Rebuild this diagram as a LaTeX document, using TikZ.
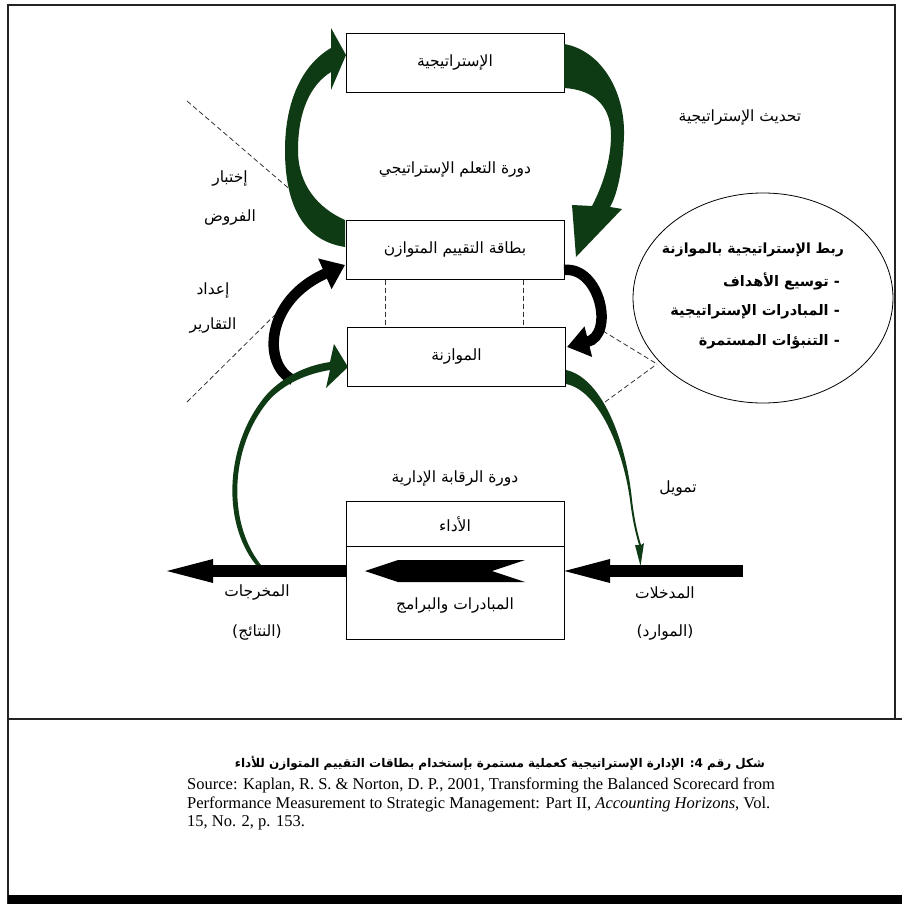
\documentclass[tikz,border=0pt]{standalone}
\usepackage{fontspec}
\setmainfont{Liberation Serif}
\newfontfamily\arabicfont[Script=Arabic]{DejaVu Sans}
\TeXXeTstate=1
\usetikzlibrary{shapes.geometric,arrows.meta,calc}
\definecolor{dkgreen}{RGB}{14,58,20}
\definecolor{framec}{RGB}{35,35,35}
\begin{document}
\begin{tikzpicture}[x=1pt,y=-1pt,
  box/.style={draw, line width=1pt, minimum width=218pt, minimum height=59pt, inner sep=0pt},
  ar/.style={font=\arabicfont\fontsize{15.5}{17}\selectfont, inner sep=1pt},
  arb/.style={font=\arabicfont\bfseries\fontsize{14.5}{16}\selectfont, inner sep=1pt},
  src/.style={font=\fontsize{16.5}{18}\selectfont, inner sep=0pt, anchor=west},
  dsh/.style={dash pattern=on 5pt off 3pt, line width=0.8pt, black!80},
  blk/.style={line width=10.5pt, black}
]
\useasboundingbox (0,0) rectangle (902,904);
\fill[white] (0,0) rectangle (902,904);
% frame
\draw[framec, line width=1.6pt] (8,904) -- (8,5) -- (895,5) -- (895,719);
\draw[framec, line width=1.6pt] (8,719) -- (902,719);
\fill[black] (8,895) rectangle (902,904);

% boxes
\node[box, ar] (strat) at (455,63) {\beginR الإستراتيجية\endR};
\node[box, ar] (bsc) at (455,249.5) {\beginR بطاقة التقييم المتوازن\endR};
\node[box, ar] (budget) at (456.5,356.5) {\beginR الموازنة\endR};
\node[draw, line width=1pt, minimum width=218pt, minimum height=138pt, inner sep=0pt] (perf) at (455,570) {};
\path (perf.north west) ++(0,46) coordinate (divL);
\path (perf.north east) ++(0,46) coordinate (divR);
\draw[line width=1pt] (divL) -- (divR);
\node[ar] (perfT) at (455,524) {\beginR الأداء\endR};
\node[ar] (perfB) at (455,605) {\beginR المبادرات والبرامج\endR};

% dashed links between bsc and budget
\path ($(bsc.south west)+(40,0)$) coordinate (d1);
\path ($(bsc.south west)+(178,0)$) coordinate (d2);
\draw[dsh] (d1) -- (d1 |- budget.north);
\draw[dsh] (d2) -- (d2 |- budget.north);

% texts
\node[ar] (learn) at (455,170) {\beginR دورة التعلم الإستراتيجي\endR};
\node[ar] (upd) at (740,118) {\beginR تحديث الإستراتيجية\endR};
\node[ar] (test1) at (230,179) {\beginR إختبار\endR};
\node[ar] (test2) at (230,218) {\beginR الفروض\endR};
\node[ar] (rep1) at (213,291) {\beginR إعداد\endR};
\node[ar] (rep2) at (213,326) {\beginR التقارير\endR};
\node[ar] (ctrl) at (455,478) {\beginR دورة الرقابة الإدارية\endR};
\node[ar] (fund) at (678,488) {\beginR تمويل\endR};
\node[ar] (out1) at (257,592) {\beginR المخرجات\endR};
\node[ar] (out2) at (257,632) {){\beginR النتائج\endR}(};
\node[ar] (in1) at (665,593) {\beginR المدخلات\endR};
\node[ar] (in2) at (665,632) {){\beginR الموارد\endR}(};

% ellipse
\node[draw, ellipse, line width=0.8pt, minimum width=260pt, minimum height=210pt, inner sep=0pt] (ell) at (763,298) {};
\node[arb, font=\arabicfont\bfseries\fontsize{14}{16}\selectfont] (e0) at (753,250) {\beginR ربط الإستراتيجية بالموازنة\endR};
\node[arb, anchor=east] (e1) at (841,281) {\beginR - توسيع الأهداف\endR};
\node[arb, anchor=east] (e2) at (841,312) {\beginR - المبادرات الإستراتيجية\endR};
\node[arb, anchor=east] (e3) at (841,342) {\beginR - التنبؤات المستمرة\endR};
\coordinate (eJ) at (657,364);
\coordinate (eA) at (603,331);
\coordinate (eB) at (605,402);
\draw[dsh] (eA) -- (eJ);
\draw[dsh] (eB) -- (eJ);

% left dashed lines
\coordinate (l1a) at (187,101); \coordinate (l1b) at (293,192);
\coordinate (l2a) at (187,402); \coordinate (l2b) at (290,300);
\draw[dsh] (l1a) -- (l1b);
\draw[dsh] (l2a) -- (l2b);

% big horizontal arrows
\coordinate (outTip) at (167,571);
\coordinate (inTail) at (743,571);
\fill[black] (perf.west |- 0,565) rectangle (211,577);
\fill[black] (213,559) -- (outTip) -- (213,583) -- cycle;
\fill[black] (inTail |- 0,565) rectangle (608,577);
\fill[black] (610,559) -- (perf.east |- outTip) -- (610,583) -- cycle;

% inner arrow
\fill[black] (365,571) -- (398,560) -- (525,560) -- (492,571) -- (525,582) -- (398,582) -- cycle;

% green left curved arrow (bsc -> strategy)
\fill[dkgreen] (345,220) .. controls (318,208) and (298,185) .. (298,150)
  .. controls (298,112) and (310,85) .. (331,72) -- (331,90) -- (346,55) -- (331,28) -- (331,48)
  .. controls (300,66) and (285,105) .. (285,150)
  .. controls (285,200) and (300,240) .. (345,247) -- cycle;

% green right curved arrow (strategy -> bsc)
\fill[dkgreen] (564,44) .. controls (600,50) and (625,90) .. (624,135)
  .. controls (623,170) and (617,195) .. (610,207) -- (622,209) -- (576,257) -- (572,205) -- (592,206)
  .. controls (603,185) and (611,160) .. (611,135)
  .. controls (611,110) and (598,90) .. (564,88) -- cycle;

% black right arrow (bsc -> budget)
\draw[blk, -{Triangle[length=22pt,width=30pt]}] (564,270) .. controls (600,266) and (615,335) .. (567,347);
% black left arrow (budget -> bsc)
\draw[blk, -{Triangle[length=22pt,width=32pt]}] (293,380) .. controls (262,365) and (265,300) .. (345,265);

% green thin arrow outputs -> budget
\fill[dkgreen] (256,565) .. controls (220,520) and (226,440) .. (268,393)
  .. controls (284,377) and (304,366) .. (330,362) -- (334,344) -- (348,367) -- (326,388) -- (330,370)
  .. controls (306,374) and (287,383) .. (272,397)
  .. controls (231,441) and (225,520) .. (261,565) -- cycle;

% green thin arrow budget -> inputs
\fill[dkgreen] (566,370) .. controls (602,378) and (626,440) .. (632,500)
  .. controls (635,525) and (639,538) .. (641,545) -- (644,543) -- (640.5,566) -- (635,545) -- (639,545)
  .. controls (637,538) and (633,525) .. (630,500)
  .. controls (623,448) and (598,390) .. (566,384) -- cycle;

% caption
\node[arb, font=\arabicfont\bfseries\fontsize{12}{14}\selectfont] (cap) at (500,763) {\beginR شكل رقم 4\kern0pt: الإدارة الإستراتيجية كعملية مستمرة بإستخدام بطاقات التقييم المتوازن للأداء\endR};
\node[src] (s1) at (187,785) {Source: Kaplan, R. S. \& Norton, D. P., 2001, Transforming the Balanced Scorecard from};
\node[src] (s2) at (187,804) {Performance Measurement to Strategic Management: Part II, \textit{Accounting Horizons}, Vol.};
\node[src] (s3) at (187,823) {15, No. 2, p. 153.};
\end{tikzpicture}
\end{document}
